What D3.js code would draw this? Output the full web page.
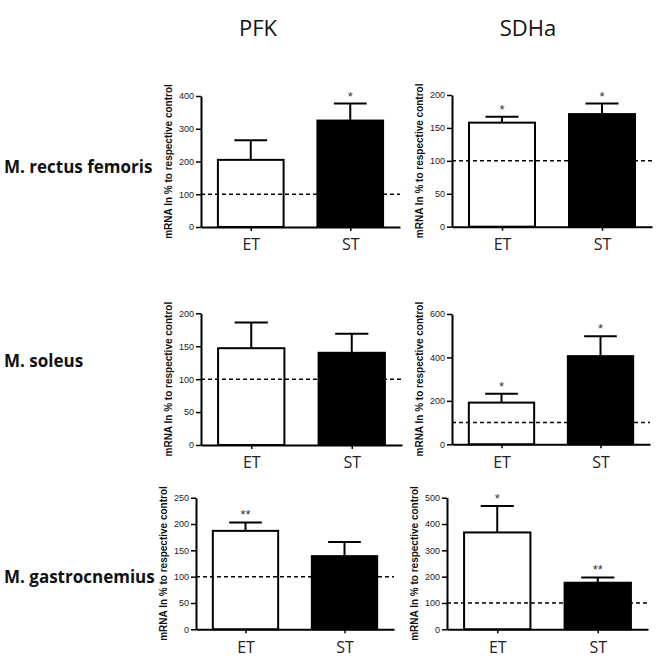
<!DOCTYPE html>
<html>
<head>
<meta charset="utf-8">
<script src="https://cdn.jsdelivr.net/npm/d3@7"></script>
<style>
  html, body { margin: 0; padding: 0; background: #fff; }
  svg { display: block; }
</style>
</head>
<body>
<svg id="chart" width="659" height="661"></svg>
<script>
// ---------------- DATA ----------------
const categories = ["ET", "ST"];
const genes = ["PFK", "SDHa"];
const muscles = ["M. rectus femoris", "M. soleus", "M. gastrocnemius"];
const yAxisTitle = "mRNA In %  to respective control";

// rows: rectus femoris, soleus, gastrocnemius ; columns: ET, ST
const pfkMean  = [[205, 325], [147, 140], [187, 139]];
const pfkUpper = [[265, 377], [186, 169], [203, 166]];
const pfkStars = [["", "*"], ["", ""], ["**", ""]];
const pfkYMax  = [400, 200, 250];
const pfkYStep = [100, 50, 50];

const sdhaMean  = [[158, 171], [192, 406], [368, 177]];
const sdhaUpper = [[167, 187], [233, 497], [468, 197]];
const sdhaStars = [["*", "*"], ["*", "*"], ["*", "**"]];
const sdhaYMax  = [200, 600, 500];
const sdhaYStep = [50, 200, 100];

const controlLevel = 100;
const barFills = ["#ffffff", "#000000"];

// ---------------- LAYOUT ----------------
const panelBoxes = [
  [ {x0: 201, x1: 400, yTop: 96,    yBase: 227},
    {x0: 201, x1: 402, yTop: 313.3, yBase: 445},
    {x0: 196, x1: 394, yTop: 497.7, yBase: 629.3} ],
  [ {x0: 452, x1: 652, yTop: 95,    yBase: 226.7},
    {x0: 452, x1: 650, yTop: 314,   yBase: 444.3},
    {x0: 447, x1: 648, yTop: 497.7, yBase: 629.3} ]
];
const titleX = [258, 528];
const rowLabelY = [167, 361, 577];

const svg = d3.select("#chart");

// column titles
svg.selectAll("text.gene").data(genes).enter().append("text")
  .attr("class", "gene")
  .attr("x", (d, i) => titleX[i]).attr("y", 36)
  .attr("text-anchor", "middle")
  .style("font-family", "'Open Sans', sans-serif")
  .style("font-size", "22px")
  .style("fill", "#111")
  .text(d => d);

// row labels
svg.selectAll("text.muscle").data(muscles).enter().append("text")
  .attr("class", "muscle")
  .attr("x", 4).attr("y", (d, i) => rowLabelY[i] + 6)
  .style("font-family", "'Open Sans', sans-serif")
  .style("font-weight", "700")
  .style("font-size", "17px")
  .style("fill", "#111")
  .text(d => d);

function drawPanel(box, mean, upper, stars, yMax, yStep) {
  const g = svg.append("g");
  const y = d3.scaleLinear().domain([0, yMax]).range([box.yBase, box.yTop]);
  const x = d3.scalePoint().domain(categories).range([box.x0, box.x1]).padding(0.5);
  const bw = x.step() * 0.66;

  // bars
  g.selectAll("rect.bar").data(categories).enter().append("rect")
    .attr("x", d => x(d) - bw / 2)
    .attr("y", (d, i) => y(mean[i]))
    .attr("width", bw)
    .attr("height", (d, i) => y(0) - y(mean[i]))
    .attr("fill", (d, i) => barFills[i])
    .attr("stroke", "#000").attr("stroke-width", 2);

  // error bars
  g.selectAll("line.stem").data(categories).enter().append("line")
    .attr("x1", d => x(d)).attr("x2", d => x(d))
    .attr("y1", (d, i) => y(mean[i])).attr("y2", (d, i) => y(upper[i]))
    .attr("stroke", "#000").attr("stroke-width", 2);
  g.selectAll("line.cap").data(categories).enter().append("line")
    .attr("x1", d => x(d) - bw / 4).attr("x2", d => x(d) + bw / 4)
    .attr("y1", (d, i) => y(upper[i])).attr("y2", (d, i) => y(upper[i]))
    .attr("stroke", "#000").attr("stroke-width", 2);

  // significance stars
  g.selectAll("text.star").data(categories).enter().append("text")
    .attr("x", d => x(d)).attr("y", (d, i) => y(upper[i]) - 3)
    .attr("text-anchor", "middle")
    .style("font-family", "'Liberation Sans', Arial, sans-serif")
    .style("font-size", "13px")
    .style("fill", "#333")
    .text((d, i) => stars[i]);

  // dashed control line
  g.append("line")
    .attr("x1", box.x0).attr("x2", box.x1)
    .attr("y1", y(controlLevel)).attr("y2", y(controlLevel))
    .attr("stroke", "#000").attr("stroke-width", 1.5)
    .attr("stroke-dasharray", "4,3");

  // y axis
  const yAxis = d3.axisLeft(y).tickValues(d3.range(0, yMax + 1, yStep))
    .tickSize(5).tickSizeOuter(0).tickPadding(2);
  const ya = g.append("g").attr("transform", `translate(${box.x0},0)`).call(yAxis);
  ya.select(".domain").attr("stroke-width", 2);
  ya.selectAll(".tick line").attr("stroke-width", 1.5);
  ya.selectAll(".tick text")
    .style("font-family", "'Liberation Sans', Arial, sans-serif")
    .style("font-size", "9px").style("fill", "#222");

  // x axis
  const xAxis = d3.axisBottom(x).tickSize(4).tickSizeOuter(0).tickPadding(8);
  const xa = g.append("g").attr("transform", `translate(0,${box.yBase})`).call(xAxis);
  xa.select(".domain").attr("stroke-width", 2);
  xa.selectAll(".tick line").attr("stroke-width", 1.5);
  xa.selectAll(".tick text")
    .style("font-family", "'Open Sans', sans-serif")
    .style("font-size", "16px").style("fill", "#222");

  // y axis title
  g.append("text")
    .attr("transform", `translate(${box.x0 - 29},${(box.yTop + box.yBase) / 2}) rotate(-90)`)
    .attr("text-anchor", "middle")
    .style("font-family", "'Liberation Sans', Arial, sans-serif")
    .style("font-weight", "700")
    .style("font-size", "10px")
    .style("fill", "#111")
    .text(yAxisTitle);
}

for (let r = 0; r < 3; r++) {
  drawPanel(panelBoxes[0][r], pfkMean[r], pfkUpper[r], pfkStars[r], pfkYMax[r], pfkYStep[r]);
  drawPanel(panelBoxes[1][r], sdhaMean[r], sdhaUpper[r], sdhaStars[r], sdhaYMax[r], sdhaYStep[r]);
}
</script>
</body>
</html>
